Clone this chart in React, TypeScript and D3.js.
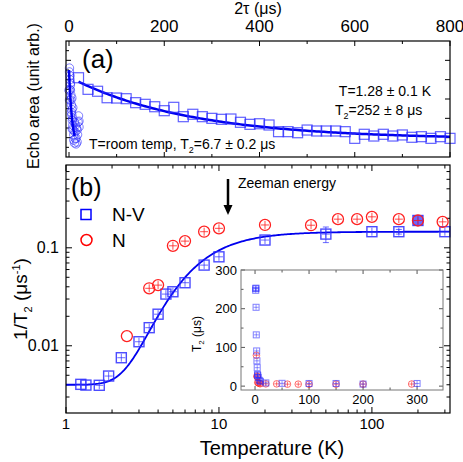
import React, { useEffect, useRef } from "react";
import * as d3 from "d3";

// ---- panel (a): echo decay, 2tau in us, area in arb. units
const echoTau = [20, 40, 60, 80, 100, 120, 140, 160, 180, 200, 220, 240, 260, 280, 300, 320, 340, 360, 380, 400,
  420, 440, 460, 480, 500, 520, 540, 560, 580, 600, 620, 640, 660, 680, 700, 720, 740, 760, 780, 800];
const echoArea = [8.2, 7.0, 6.8, 6.13, 6.1, 6.03, 5.62, 5.45, 5.2, 4.79, 5.14, 4.17, 4.42, 4.17, 4.0, 3.9, 3.93, 3.59, 3.38, 3.44,
  3.31, 2.62, 2.62, 2.51, 2.79, 2.69, 2.69, 2.69, 2.62, 1.93, 2.35, 2.17, 2.35, 2.17, 2.28, 2.04, 2.1, 1.93, 2.1, 1.93];
const roomTau = [1, 1, 2, 2, 3, 3, 4, 4, 5, 6, 6, 7, 8, 9, 10, 10, 11.5, 15, 17, 19, 20, 21, 17, 15, 14, 8, 6, 3, 0, 1, 12.5, 16, 21, 8, 11.5,
  2, 5, 7, 13, 18];
const roomArea = [9.2, 8.8, 8.4, 8.0, 7.45, 6.9, 6.4, 5.9, 5.4, 4.9, 4.35, 3.8, 3.3, 2.8, 2.3, 1.75, 1.45, 1.95, 2.8, 3.6, 4.25, 3.7,
  1.55, 1.35, 3.3, 5.1, 6.1, 7.65, 6.9, 5.9, 2.6, 3.0, 3.1, 4.0, 3.6, 7.0, 4.6, 2.9, 1.9, 2.3];
const fitLow = { A: 6.45, C: 1.83, T2: 252 };
const fitRoom = { A: 8.2, C: 0.8, T2: 6.7 };

// ---- panel (b): 1/T2 vs temperature
const nvTemp = [1.25, 1.35, 1.65, 1.9, 2.3, 3, 3.5, 4, 4.5, 5, 6, 8, 10, 20, 50, 100, 150, 200, 300];
const nvRate = [0.00404, 0.00397, 0.00395, 0.00491, 0.00755, 0.011, 0.0153, 0.021, 0.0337, 0.0356, 0.044, 0.0666, 0.0809,
  0.12, 0.138, 0.146, 0.146, 0.19, 0.146];
const nvErr = [0, 0, 0, 0, 0, 0, 0, 0, 0, 0, 0, 0, 0, 0, 0.025, 0, 0.008, 0, 0];
const nTemp = [2.5, 3.5, 4, 5, 6, 8, 10, 20, 40, 60, 80, 100, 150, 200, 290];
const nRate = [0.01256, 0.0386, 0.0416, 0.1048, 0.117, 0.146, 0.158, 0.171, 0.17, 0.196, 0.196, 0.207, 0.196, 0.19, 0.184];
const nvFit = { a: 0.004, b: 0.142, delta: 14 };

const topTicks = [0, 200, 400, 600, 800];
const bottomTicks = [1, 10, 100];
const rateTicks = [0.01, 0.1];
const insetTicks = [0, 100, 200, 300];

const BLUE = "#2b2bff";
const RED = "#ff2020";
const FONT = "'Liberation Sans', Arial, Helvetica, sans-serif";

export default function App() {
  const ref = useRef<SVGSVGElement>(null);

  useEffect(() => {
    const svg = d3.select(ref.current);
    svg.selectAll("*").remove();
    svg.attr("font-family", FONT);

    // ================= panel (a)
    const ax = d3.scaleLinear().domain([-6.3, 800]).range([66, 450]);
    const ay = d3.scaleLinear().domain([0, 12]).range([157, 41]);

    const ga = svg.append("g");
    d3.range(0, 801, 100).forEach((t) => {
      const len = t % 200 === 0 ? 5 : 3;
      ga.append("line").attr("x1", ax(t)).attr("x2", ax(t)).attr("y1", 41).attr("y2", 41 + len).attr("stroke", "#000");
      ga.append("line").attr("x1", ax(t)).attr("x2", ax(t)).attr("y1", 157).attr("y2", 157 - len).attr("stroke", "#000");
    });
    d3.range(1, 12).forEach((v) => {
      const len = v % 2 === 0 ? 5 : 3;
      ga.append("line").attr("x1", 66).attr("x2", 66 + len).attr("y1", ay(v)).attr("y2", ay(v)).attr("stroke", "#000");
      if (v % 2 === 0)
        ga.append("line").attr("x1", 450).attr("x2", 450 - len).attr("y1", ay(v)).attr("y2", ay(v)).attr("stroke", "#000");
    });
    topTicks.forEach((t) => {
      ga.append("text").attr("x", ax(t)).attr("y", 32).attr("text-anchor", "middle").attr("font-size", 17).text(t);
    });
    ga.append("text").attr("x", 258).attr("y", 14).attr("text-anchor", "middle").attr("font-size", 16)
      .text("2τ (μs)");
    ga.append("text").attr("transform", "translate(39,96) rotate(-90)").attr("text-anchor", "middle")
      .attr("font-size", 16).text("Echo area (unit arb.)");

    // room temp circles
    ga.selectAll("circle.room").data(roomTau).join("circle").attr("class", "room")
      .attr("cx", (d) => ax(d)).attr("cy", (d, i) => ay(roomArea[i])).attr("r", 4.2)
      .attr("fill", "none").attr("stroke", BLUE).attr("stroke-opacity", 0.6).attr("stroke-width", 1);

    const lineA = d3.line<number>().x((d) => ax(d[0])).y((d) => ay(d[1]));
    const roomCurve = d3.range(0, 12.01, 0.25).map((x) => [x, fitRoom.C + fitRoom.A * Math.exp(-x / fitRoom.T2)]);
    ga.append("path").attr("d", lineA(roomCurve as any)).attr("fill", "none").attr("stroke", "#0000ee").attr("stroke-width", 2.5);
    const lowCurve = d3.range(20, 800.1, 5).map((x) => [x, fitLow.C + fitLow.A * Math.exp(-x / fitLow.T2)]);
    ga.append("path").attr("d", lineA(lowCurve as any)).attr("fill", "none").attr("stroke", "#0000ee").attr("stroke-width", 2.5);

    ga.selectAll("rect.echo").data(echoTau).join("rect").attr("class", "echo")
      .attr("x", (d) => ax(d) - 5).attr("y", (d, i) => ay(echoArea[i]) - 5).attr("width", 10).attr("height", 10)
      .attr("fill", "none").attr("stroke", BLUE).attr("stroke-opacity", 0.75).attr("stroke-width", 1.2);

    ga.append("rect").attr("x", 66).attr("y", 41).attr("width", 384).attr("height", 116)
      .attr("fill", "none").attr("stroke", "#000").attr("stroke-width", 1.2);

    ga.append("text").attr("x", 82).attr("y", 68).attr("font-size", 26).text("(a)");
    ga.append("text").attr("x", 431).attr("y", 96).attr("text-anchor", "end").attr("font-size", 14).text("T=1.28 ± 0.1 K");
    const t2a = ga.append("text").attr("x", 335).attr("y", 115).attr("font-size", 14);
    t2a.append("tspan").text("T");
    t2a.append("tspan").attr("font-size", 9).attr("dy", 4).text("2");
    t2a.append("tspan").attr("dy", -4).text("=252 ± 8 μs");
    const t2r = ga.append("text").attr("x", 89).attr("y", 149).attr("font-size", 14);
    t2r.append("tspan").text("T=room temp, T");
    t2r.append("tspan").attr("font-size", 9).attr("dy", 4).text("2");
    t2r.append("tspan").attr("dy", -4).text("=6.7 ± 0.2 μs");

    // ================= panel (b)
    const bx = d3.scaleLog().domain([1, 324]).range([66, 450]);
    const by = d3.scaleLog().domain([0.00206, 0.7]).range([413, 165]);
    const gb = svg.append("g");

    const xMinor: number[] = [];
    [1, 10, 100].forEach((dec) => d3.range(1, 10).forEach((m) => { if (dec * m <= 324) xMinor.push(dec * m); }));
    xMinor.forEach((t) => {
      const len = [1, 10, 100].includes(t) ? 6 : 3.5;
      gb.append("line").attr("x1", bx(t)).attr("x2", bx(t)).attr("y1", 413).attr("y2", 413 - len).attr("stroke", "#000");
      gb.append("line").attr("x1", bx(t)).attr("x2", bx(t)).attr("y1", 165).attr("y2", 165 + len).attr("stroke", "#000");
    });
    const yMinor: number[] = [];
    [0.001, 0.01, 0.1].forEach((dec) => d3.range(1, 10).forEach((m) => {
      const v = dec * m;
      if (v >= 0.00206 && v <= 0.7) yMinor.push(v);
    }));
    yMinor.forEach((v) => {
      const major = Math.abs(v - 0.01) < 1e-9 || Math.abs(v - 0.1) < 1e-9;
      const len = major ? 6 : 3.5;
      gb.append("line").attr("x1", 66).attr("x2", 66 + len).attr("y1", by(v)).attr("y2", by(v)).attr("stroke", "#000");
      gb.append("line").attr("x1", 450).attr("x2", 450 - len).attr("y1", by(v)).attr("y2", by(v)).attr("stroke", "#000");
    });
    bottomTicks.forEach((t) => {
      gb.append("text").attr("x", bx(t)).attr("y", 429).attr("text-anchor", "middle").attr("font-size", 15).text(t);
    });
    rateTicks.forEach((v) => {
      gb.append("text").attr("x", 59).attr("y", by(v) + 5).attr("text-anchor", "end").attr("font-size", 16).text(v);
    });
    gb.append("text").attr("x", 272).attr("y", 455).attr("text-anchor", "middle").attr("font-size", 20).text("Temperature (K)");
    const yl = gb.append("text").attr("transform", "translate(27,299) rotate(-90)").attr("text-anchor", "middle").attr("font-size", 19);
    yl.append("tspan").text("1/T");
    yl.append("tspan").attr("font-size", 11).attr("dy", 5).text("2");
    yl.append("tspan").attr("dy", -5).text(" (μs");
    yl.append("tspan").attr("font-size", 11).attr("dy", -7).text("-1");
    yl.append("tspan").attr("dy", 7).text(")");

    // fit
    const sech2 = (x: number) => { const c = Math.cosh(x); return 1 / (c * c); };
    const fitPts = d3.range(0, 2.511, 0.01).map((e) => {
      const T = Math.pow(10, e);
      return [T, nvFit.a + nvFit.b * sech2(nvFit.delta / (2 * T))];
    });
    const lineB = d3.line<number>().x((d) => bx(d[0])).y((d) => by(d[1]));
    gb.append("path").attr("d", lineB(fitPts as any)).attr("fill", "none").attr("stroke", "#0000ee").attr("stroke-width", 1.8);

    // N-V squares with cross
    nvTemp.forEach((T, i) => {
      const cx = bx(T), cy = by(nvRate[i]);
      const g = gb.append("g");
      if (nvErr[i] > 0) {
        const y1 = by(nvRate[i] + nvErr[i]), y2 = by(nvRate[i] - nvErr[i]);
        g.append("line").attr("x1", cx).attr("x2", cx).attr("y1", y1).attr("y2", y2).attr("stroke", BLUE).attr("stroke-opacity", 0.7);
        g.append("line").attr("x1", cx - 3).attr("x2", cx + 3).attr("y1", y1).attr("y2", y1).attr("stroke", BLUE).attr("stroke-opacity", 0.7);
        g.append("line").attr("x1", cx - 3).attr("x2", cx + 3).attr("y1", y2).attr("y2", y2).attr("stroke", BLUE).attr("stroke-opacity", 0.7);
      }
      g.append("rect").attr("x", cx - 5).attr("y", cy - 5).attr("width", 10).attr("height", 10)
        .attr("fill", T === 200 ? "#6a6aff" : "none").attr("stroke", BLUE).attr("stroke-opacity", 0.85).attr("stroke-width", 1.4);
      g.append("line").attr("x1", cx - 4).attr("x2", cx + 4).attr("y1", cy).attr("y2", cy).attr("stroke", BLUE).attr("stroke-opacity", 0.7);
      g.append("line").attr("x1", cx).attr("x2", cx).attr("y1", cy - 4).attr("y2", cy + 4).attr("stroke", BLUE).attr("stroke-opacity", 0.7);
    });
    // N circles with cross
    nTemp.forEach((T, i) => {
      const cx = bx(T), cy = by(nRate[i]);
      const g = gb.append("g");
      g.append("circle").attr("cx", cx).attr("cy", cy).attr("r", 5.5)
        .attr("fill", "none").attr("stroke", RED).attr("stroke-width", 1.3);
      if (i > 0) {
        g.append("line").attr("x1", cx - 4).attr("x2", cx + 4).attr("y1", cy).attr("y2", cy).attr("stroke", RED).attr("stroke-opacity", 0.8);
        g.append("line").attr("x1", cx).attr("x2", cx).attr("y1", cy - 4).attr("y2", cy + 4).attr("stroke", RED).attr("stroke-opacity", 0.8);
      }
    });

    gb.append("rect").attr("x", 66).attr("y", 165).attr("width", 384).attr("height", 248)
      .attr("fill", "none").attr("stroke", "#000").attr("stroke-width", 1.2);

    gb.append("text").attr("x", 71).attr("y", 196).attr("font-size", 25).text("(b)");
    gb.append("rect").attr("x", 81).attr("y", 209.5).attr("width", 10).attr("height", 10)
      .attr("fill", "none").attr("stroke", "#0000ff").attr("stroke-width", 1.5);
    gb.append("text").attr("x", 112).attr("y", 221).attr("font-size", 19).text("N-V");
    gb.append("circle").attr("cx", 86.5).attr("cy", 240).attr("r", 5.5)
      .attr("fill", "none").attr("stroke", "#ff0000").attr("stroke-width", 1.5);
    gb.append("text").attr("x", 112).attr("y", 247).attr("font-size", 19).text("N");

    // Zeeman arrow
    gb.append("line").attr("x1", 228).attr("x2", 228).attr("y1", 179).attr("y2", 206).attr("stroke", "#000").attr("stroke-width", 2.5);
    gb.append("path").attr("d", "M223.5,205 L232.5,205 L228,215 Z").attr("fill", "#000");
    gb.append("text").attr("x", 238).attr("y", 188).attr("font-size", 14).text("Zeeman energy");

    // ================= inset
    const ix = d3.scaleLinear().domain([-26, 348]).range([241, 443]);
    const iy = d3.scaleLinear().domain([-10, 300]).range([390, 270]);
    const gi = svg.append("g");
    gi.append("rect").attr("x", 241).attr("y", 270).attr("width", 202).attr("height", 120).attr("fill", "#fff");
    d3.range(0, 301, 50).forEach((t) => {
      const len = t % 100 === 0 ? 4 : 2.5;
      gi.append("line").attr("x1", ix(t)).attr("x2", ix(t)).attr("y1", 390).attr("y2", 390 - len).attr("stroke", "#555");
      gi.append("line").attr("x1", ix(t)).attr("x2", ix(t)).attr("y1", 270).attr("y2", 270 + len).attr("stroke", "#555");
      gi.append("line").attr("x1", 241).attr("x2", 241 + len).attr("y1", iy(t)).attr("y2", iy(t)).attr("stroke", "#555");
      gi.append("line").attr("x1", 443).attr("x2", 443 - len).attr("y1", iy(t)).attr("y2", iy(t)).attr("stroke", "#555");
    });
    insetTicks.forEach((t) => {
      gi.append("text").attr("x", ix(t)).attr("y", 404).attr("text-anchor", "middle").attr("font-size", 13).text(t);
      gi.append("text").attr("x", 237).attr("y", iy(t) + 4.5).attr("text-anchor", "end").attr("font-size", 13).text(t);
    });
    const il = gi.append("text").attr("transform", "translate(201,334) rotate(-90)").attr("text-anchor", "middle").attr("font-size", 12);
    il.append("tspan").text("T");
    il.append("tspan").attr("font-size", 8).attr("dy", 3).text("2");
    il.append("tspan").attr("dy", -3).text(" (μs)");

    nTemp.forEach((T, i) => {
      const cx = ix(T), cy = iy(1 / nRate[i]);
      gi.append("circle").attr("cx", cx).attr("cy", cy).attr("r", 3.3).attr("fill", "none")
        .attr("stroke", RED).attr("stroke-opacity", 0.65).attr("stroke-width", 1);
      gi.append("line").attr("x1", cx).attr("x2", cx).attr("y1", cy - 2.5).attr("y2", cy + 2.5).attr("stroke", RED).attr("stroke-opacity", 0.6);
      gi.append("line").attr("x1", cx - 2.5).attr("x2", cx + 2.5).attr("y1", cy).attr("y2", cy).attr("stroke", RED).attr("stroke-opacity", 0.6);
    });
    nvTemp.forEach((T, i) => {
      const cx = ix(T), cy = iy(1 / nvRate[i]);
      gi.append("rect").attr("x", cx - 3).attr("y", cy - 3).attr("width", 6).attr("height", 6).attr("fill", "none")
        .attr("stroke", BLUE).attr("stroke-opacity", 0.6).attr("stroke-width", 1);
      gi.append("line").attr("x1", cx).attr("x2", cx).attr("y1", cy - 2.5).attr("y2", cy + 2.5).attr("stroke", BLUE).attr("stroke-opacity", 0.5);
      gi.append("line").attr("x1", cx - 2.5).attr("x2", cx + 2.5).attr("y1", cy).attr("y2", cy).attr("stroke", BLUE).attr("stroke-opacity", 0.5);
    });
    gi.append("rect").attr("x", 241).attr("y", 270).attr("width", 202).attr("height", 120)
      .attr("fill", "none").attr("stroke", "#777").attr("stroke-width", 1);
  }, []);

  return (
    <div style={{ position: "absolute", left: 0, top: 0 }}>
      <svg ref={ref} width={463} height={462} style={{ display: "block", background: "#fff" }} />
    </div>
  );
}
